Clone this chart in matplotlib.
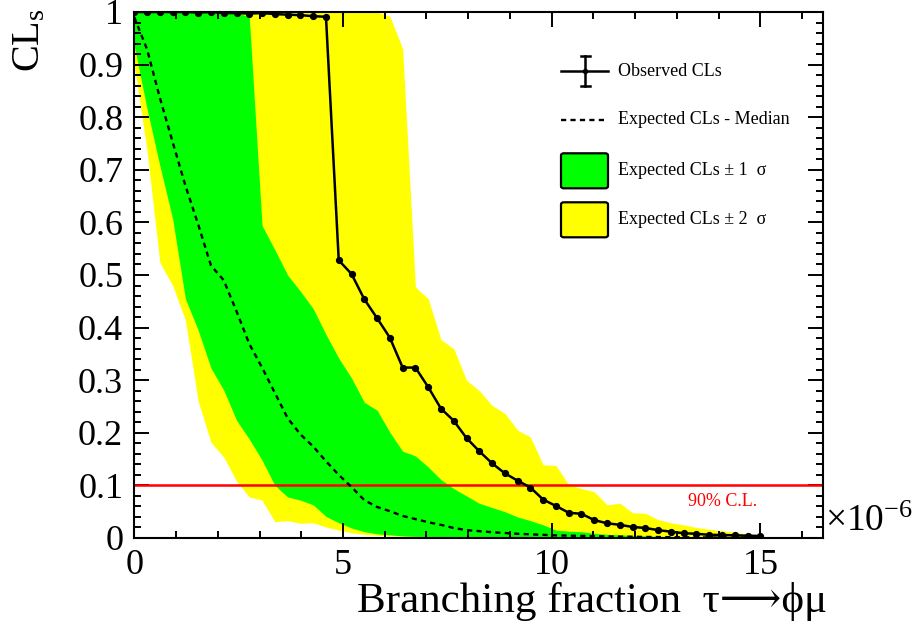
#! /usr/bin/env python3

import numpy as np
import matplotlib
matplotlib.use("Agg")
import matplotlib.pyplot as plt
from matplotlib.patches import FancyBboxPatch
from matplotlib.lines import Line2D
from matplotlib.ticker import MultipleLocator, FuncFormatter

plt.rcParams['font.family'] = ['Liberation Serif', 'DejaVu Serif', 'DejaVu Sans']
plt.rcParams['mathtext.fontset'] = 'custom'
plt.rcParams['mathtext.rm'] = 'Liberation Serif'
plt.rcParams['mathtext.it'] = 'Liberation Serif:italic'

# scan points in units of 10^-6
bf = [0.000, 0.306, 0.612, 0.918, 1.224, 1.531, 1.837, 2.143, 2.449, 2.755,
      3.061, 3.367, 3.673, 3.980, 4.286, 4.592, 4.898, 5.204, 5.510, 5.816,
      6.122, 6.429, 6.735, 7.041, 7.347, 7.653, 7.959, 8.265, 8.571, 8.878,
      9.184, 9.490, 9.796, 10.102, 10.408, 10.714, 11.020, 11.327, 11.633, 11.939,
      12.245, 12.551, 12.857, 13.163, 13.469, 13.776, 14.082, 14.388, 14.694, 15.000]

cls_obs = [1.0, 1.0, 1.0, 1.0, 1.0, 0.999, 1.0, 0.998, 0.998, 0.997,
           0.998, 0.996, 0.995, 0.994, 0.992, 0.991, 0.528, 0.502, 0.454, 0.418,
           0.381, 0.324, 0.324, 0.287, 0.246, 0.223, 0.190, 0.165, 0.142, 0.123,
           0.109, 0.096, 0.073, 0.061, 0.048, 0.046, 0.034, 0.028, 0.025, 0.021,
           0.019, 0.015, 0.012, 0.009, 0.008, 0.006, 0.0057, 0.005, 0.0044, 0.0038]

cls_exp = [0.99, 0.929, 0.837, 0.753, 0.670, 0.596, 0.518, 0.490, 0.431, 0.369,
           0.324, 0.276, 0.228, 0.197, 0.174, 0.146, 0.120, 0.097, 0.072, 0.059,
           0.051, 0.042, 0.036, 0.030, 0.025, 0.019, 0.015, 0.013, 0.011, 0.0095,
           0.008, 0.007, 0.006, 0.005, 0.0045, 0.004, 0.0035, 0.003, 0.0027, 0.0024,
           0.002, 0.0018, 0.0016, 0.0014, 0.0012, 0.001, 0.0009, 0.0008, 0.0007, 0.0006]

cls_p1 = [1.0, 1.0, 1.0, 1.0, 1.0, 1.0, 1.0, 1.0, 1.0, 0.99,
          0.594, 0.548, 0.500, 0.469, 0.436, 0.387, 0.342, 0.304, 0.258, 0.243,
          0.201, 0.165, 0.156, 0.135, 0.111, 0.094, 0.080, 0.066, 0.058, 0.050,
          0.040, 0.033, 0.025, 0.015, 0.013, 0.012, 0.009, 0.007, 0.006, 0.005,
          0.004, 0.003, 0.003, 0.002, 0.002, 0.002, 0.001, 0.001, 0.001, 0.001]

cls_m1 = [0.935, 0.816, 0.708, 0.607, 0.455, 0.395, 0.323, 0.281, 0.224, 0.188,
          0.148, 0.100, 0.078, 0.072, 0.063, 0.041, 0.029, 0.019, 0.012, 0.008,
          0.006, 0.004, 0.003, 0.003, 0.002, 0.002, 0.0015, 0.001, 0.001, 0.001,
          0.0008, 0.0007, 0.0006, 0.0005, 0.0005, 0.0004, 0.0004, 0.0003, 0.0003, 0.0003,
          0.0002, 0.0002, 0.0002, 0.0002, 0.0001, 0.0001, 0.0001, 0.0001, 0.0001, 0.0001]

cls_p2 = [1.0, 1.0, 1.0, 1.0, 1.0, 1.0, 1.0, 1.0, 1.0, 1.0,
          1.0, 1.0, 1.0, 1.0, 1.0, 1.0, 1.0, 1.0, 1.0, 1.0,
          0.992, 0.930, 0.477, 0.455, 0.377, 0.360, 0.300, 0.280, 0.252, 0.237,
          0.205, 0.192, 0.139, 0.138, 0.101, 0.094, 0.088, 0.063, 0.066, 0.048,
          0.047, 0.035, 0.029, 0.025, 0.020, 0.0165, 0.014, 0.011, 0.0076, 0.0057]

cls_m2 = [0.900, 0.736, 0.524, 0.480, 0.414, 0.260, 0.182, 0.154, 0.108, 0.078,
          0.072, 0.031, 0.033, 0.028, 0.029, 0.021, 0.015, 0.010, 0.007, 0.005,
          0.004, 0.003, 0.002, 0.002, 0.001, 0.001, 0.0005, 0.0004, 0.0003, 0.0003,
          0.0002, 0.0002, 0.0002, 0.0001, 0.0001, 0.0001, 0.0001, 0.0001, 0.0, 0.0,
          0.0, 0.0, 0.0, 0.0, 0.0, 0.0, 0.0, 0.0, 0.0, 0.0]

cl_level = 0.1

fig = plt.figure(figsize=(9.13, 6.35), dpi=100)
ax = fig.add_axes([134.3/913, 1-538/635, 688.7/913, 526/635])

ax.fill_between(bf, cls_m2, cls_p2, color='#ffff00', lw=0)
ax.fill_between(bf, cls_m1, cls_p1, color='#00ff00', lw=0)
ax.axhline(cl_level, color='red', lw=1.8)
ax.plot(bf, cls_exp, color='k', lw=1.7, ls=(0, (2.2, 1.8)))
ax.plot(bf, cls_obs, color='k', lw=1.8, marker='o', ms=4.2)

ax.text(14.1, 0.069, '90% C.L.', color='red', fontsize=13, ha='center', va='center')

ax.set_xlim(0, 16.5)
ax.set_ylim(0, 1)
ax.xaxis.set_major_locator(MultipleLocator(5))
ax.xaxis.set_minor_locator(MultipleLocator(1))
ax.yaxis.set_major_locator(MultipleLocator(0.1))
ax.yaxis.set_minor_locator(MultipleLocator(0.02))
ax.yaxis.set_major_formatter(FuncFormatter(lambda v, p: '%g' % round(v, 2)))
ax.tick_params(which='both', direction='in', top=True, right=True, width=1.4,
               labelsize=26)
ax.tick_params(which='major', length=10.8)
ax.tick_params(which='minor', length=5)
ax.tick_params(axis='x', which='major', pad=8)
ax.tick_params(axis='y', which='major', pad=8)
for s in ax.spines.values():
    s.set_linewidth(1.5)

fig.text(827/913, 1-612/635, 'Branching fraction  \u03c4\u27f6\u03d5\u03bc', fontsize=31,
         ha='right', va='baseline')
fig.text(30/913, 1-8/635, r'CL$_{\rm s}$', fontsize=29, rotation=90, ha='center', va='top')
fig.text(825/913, 1-522/635, r'$\times$10$^{-6}$', fontsize=27, ha='left', va='center')

# legend, drawn by hand in axes fraction
def axx(px):
    return (px - 134.3) / 688.7

def axy(py):
    return (538 - py) / 526

tr = ax.transAxes
ax.add_line(Line2D([axx(561), axx(608)], [axy(71), axy(71)], color='k', lw=1.8, transform=tr))
ax.add_line(Line2D([axx(585), axx(585)], [axy(56), axy(86)], color='k', lw=1.8, transform=tr))
for yy in (56, 86):
    ax.add_line(Line2D([axx(580.5), axx(589.5)], [axy(yy), axy(yy)], color='k', lw=1.8, transform=tr))
ax.add_line(Line2D([axx(585)], [axy(71)], color='k', marker='o', ms=3, transform=tr))
ax.add_line(Line2D([axx(561), axx(604)], [axy(120), axy(120)], color='k', lw=1.7,
                   ls=(0, (2.2, 1.8)), transform=tr))
for top, col in ((153.3, '#00ff00'), (202.3, '#ffff00')):
    box = FancyBboxPatch((axx(561), axy(top + 35)), axx(608) - axx(561), axy(top) - axy(top + 35),
                         boxstyle='round,pad=0,rounding_size=0.004', facecolor=col,
                         edgecolor='k', lw=1.6, transform=tr)
    ax.add_patch(box)

labels = ['Observed CLs', 'Expected CLs - Median', 'Expected CLs \u00b1 1  \u03c3',
          'Expected CLs \u00b1 2  \u03c3']
for lab, yy in zip(labels, (71.5, 120, 170.5, 219.5)):
    ax.text(axx(618), axy(yy), lab, fontsize=13, ha='left', va='center', transform=tr)

plt.savefig('out.png', dpi=100)
